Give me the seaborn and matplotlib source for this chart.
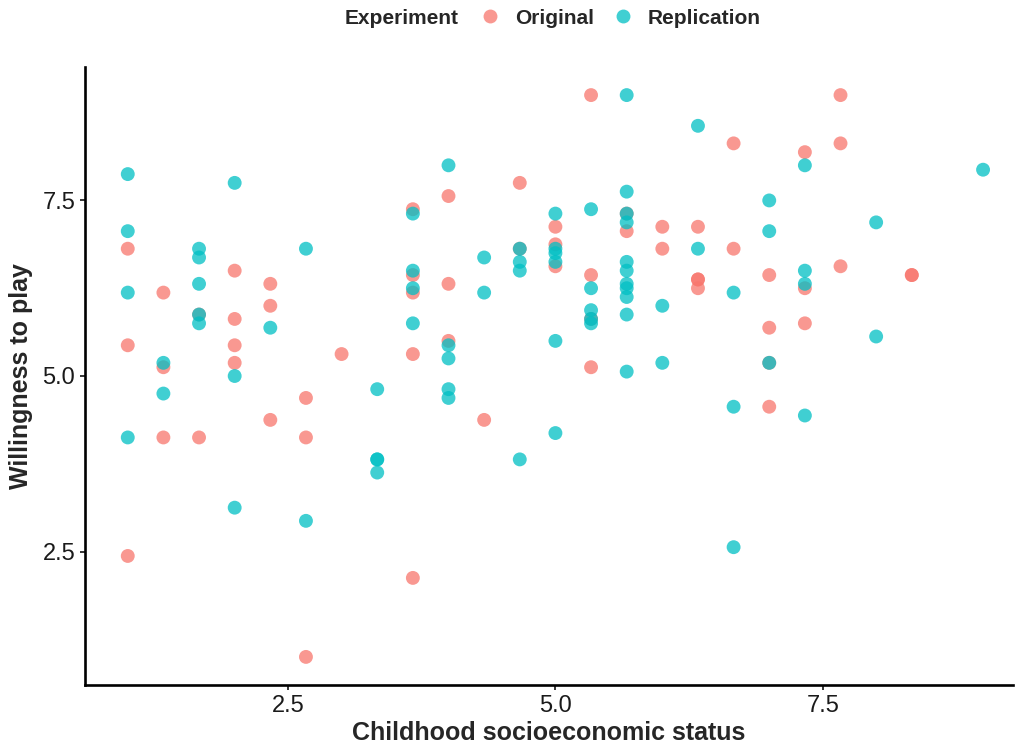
import numpy as np
import pandas as pd
import matplotlib
matplotlib.use("Agg")
import matplotlib.pyplot as plt
import seaborn as sns

# Valores (SES en tercios, disposición en 1/16)
orig_ses = [1, 1, 1,
            4/3, 4/3, 4/3,
            5/3, 5/3,
            2, 2, 2, 2,
            7/3, 7/3, 7/3,
            8/3, 8/3, 8/3,
            3,
            11/3, 11/3, 11/3, 11/3, 11/3,
            4, 4, 4,
            13/3,
            14/3, 14/3,
            5, 5, 5,
            16/3, 16/3, 16/3, 16/3,
            17/3, 17/3,
            6, 6,
            19/3, 19/3, 19/3, 19/3,
            20/3, 20/3,
            7, 7, 7, 7,
            22/3, 22/3, 22/3,
            23/3, 23/3, 23/3,
            25/3, 25/3]
orig_play = [6.8125, 5.4375, 2.4375,
             6.1875, 5.125, 4.125,
             5.875, 4.125,
             6.5, 5.8125, 5.4375, 5.1875,
             6.3125, 6.0, 4.375,
             4.6875, 4.125, 1.0,
             5.3125,
             7.375, 6.4375, 6.1875, 5.3125, 2.125,
             7.5625, 6.3125, 5.5,
             4.375,
             7.75, 6.8125,
             7.125, 6.875, 6.5625,
             9.0, 6.4375, 5.8125, 5.125,
             7.3125, 7.0625,
             7.125, 6.8125,
             7.125, 6.375, 6.375, 6.25,
             8.3125, 6.8125,
             6.4375, 5.6875, 5.1875, 4.5625,
             8.1875, 6.25, 5.75,
             9.0, 8.3125, 6.5625,
             6.4375, 6.4375]

rep_ses = [1, 1, 1, 1,
           4/3, 4/3,
           5/3, 5/3, 5/3, 5/3, 5/3,
           2, 2, 2,
           7/3,
           8/3, 8/3,
           10/3, 10/3, 10/3, 10/3,
           11/3, 11/3, 11/3, 11/3,
           4, 4, 4, 4, 4,
           13/3, 13/3,
           14/3, 14/3, 14/3, 14/3,
           5, 5, 5, 5, 5, 5,
           16/3, 16/3, 16/3, 16/3, 16/3,
           17/3, 17/3, 17/3, 17/3, 17/3, 17/3, 17/3, 17/3, 17/3, 17/3, 17/3,
           6, 6,
           19/3, 19/3,
           20/3, 20/3, 20/3,
           7, 7, 7,
           22/3, 22/3, 22/3, 22/3,
           8, 8,
           9]
rep_play = [7.875, 7.0625, 6.1875, 4.125,
            5.1875, 4.75,
            6.8125, 6.6875, 6.3125, 5.875, 5.75,
            7.75, 5.0, 3.125,
            5.6875,
            6.8125, 2.9375,
            4.8125, 3.8125, 3.8125, 3.625,
            7.3125, 6.5, 6.25, 5.75,
            8.0, 5.4375, 5.25, 4.8125, 4.6875,
            6.6875, 6.1875,
            6.8125, 6.625, 6.5, 3.8125,
            7.3125, 6.8125, 6.75, 6.625, 5.5, 4.1875,
            7.375, 6.25, 5.9375, 5.8125, 5.75,
            9.0, 7.625, 7.3125, 7.1875, 6.625, 6.5, 6.3125, 6.25, 6.125, 5.875, 5.0625,
            6.0, 5.1875,
            8.5625, 6.8125,
            6.1875, 4.5625, 2.5625,
            7.5, 7.0625, 5.1875,
            8.0, 6.5, 6.3125, 4.4375,
            7.1875, 5.5625,
            7.9375]

df = pd.DataFrame({
    "ses": orig_ses + rep_ses,
    "play": orig_play + rep_play,
    "Experiment": ["Original"] * len(orig_ses) + ["Replication"] * len(rep_ses),
})

sns.set_style("ticks")
plt.rcParams["font.family"] = ["Liberation Sans", "DejaVu Sans"]

fig = plt.figure(figsize=(10.15, 7.47), dpi=100)
ax = fig.add_axes([85/1015, 62/747, 928/1015, 618/747])

sns.scatterplot(data=df, x="ses", y="play", hue="Experiment",
                palette={"Original": "#F8766D", "Replication": "#00BFC4"},
                alpha=0.75, s=100, linewidth=0, ax=ax)

ax.set_xlim(0.6, 9.28)
ax.set_ylim(0.6, 9.4)
ax.set_xticks([2.5, 5.0, 7.5])
ax.set_yticks([2.5, 5.0, 7.5])
ax.set_xticklabels(["2.5", "5.0", "7.5"])
ax.set_yticklabels(["2.5", "5.0", "7.5"])
ax.tick_params(axis="both", labelsize=17, length=3.6, width=1.1,
               colors="black", labelcolor="#1a1a1a", pad=3.5)

for side in ["top", "right"]:
    ax.spines[side].set_visible(False)
for side in ["left", "bottom"]:
    ax.spines[side].set_linewidth(1.9)
    ax.spines[side].set_color("black")

ax.set_xlabel("Childhood socioeconomic status", fontsize=18, fontweight="bold", labelpad=3)
ax.set_ylabel("Willingness to play", fontsize=18, fontweight="bold", labelpad=7)

# leyenda arriba, con el título a la izquierda
handles, labels = ax.get_legend_handles_labels()
ax.legend_.remove()
leg = fig.legend(handles, labels, loc="center", ncol=2, frameon=False,
                 bbox_to_anchor=(620/1015, 1 - 18/747),
                 prop={"size": 15, "weight": "bold"},
                 handlelength=1.0, handletextpad=0.7, columnspacing=0.9,
                 markerscale=1.0)
fig.text(345/1015, 1 - 18/747, "Experiment", fontsize=15, fontweight="bold",
         ha="left", va="center")

fig.savefig("out.png", dpi=100)
